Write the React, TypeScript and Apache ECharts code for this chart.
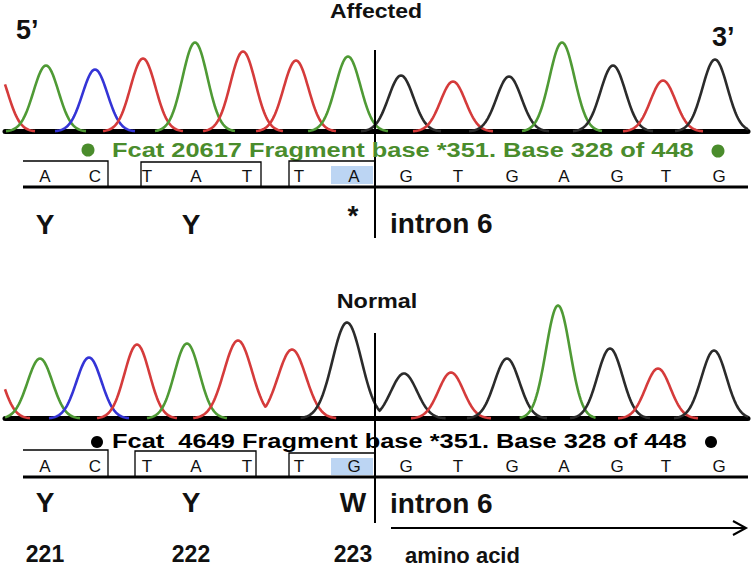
import React, { useEffect, useRef } from "react";
import * as echarts from "echarts";

// ---- data ----
const baseColors: Record<string, string> = { A: "#4f9a35", C: "#3434d6", G: "#2b2b2b", T: "#d53b3b" };

// Affected trace: peak scan positions, signal heights, called base, peak width, trace group
const affectedScan = [-5, 46, 95, 143, 195, 243, 296, 348, 401, 453, 509, 562, 613, 663, 715];
const affectedSignal = [65, 66, 62, 73, 89, 80, 71, 75, 56, 50, 55, 89, 66, 51, 72];
const affectedBase = ["T", "A", "C", "T", "A", "T", "T", "A", "G", "T", "G", "A", "G", "T", "G"];
const affectedWidth = [12.5, 12.5, 12.5, 12.5, 12.5, 12.5, 12.5, 12.5, 12.5, 12.5, 12.5, 12.5, 12.5, 12.5, 12.5];
const affectedGroup = [0, 1, 2, 3, 4, 5, 6, 7, 8, 9, 10, 11, 12, 13, 14];

// Normal trace
const normalScan = [-10, 40, 89, 137, 187, 238, 292, 347, 404, 451, 507, 558, 610, 658, 714];
const normalSignal = [60, 60, 61, 74, 75, 78, 69, 96, 45, 46, 60, 113, 70, 50, 68];
const normalBase = ["T", "A", "C", "T", "A", "T", "T", "G", "G", "T", "G", "A", "G", "T", "G"];
const normalWidth = [12.5, 12.5, 12.5, 12.5, 12.5, 14, 14, 14.5, 13, 12.5, 12.5, 12, 12.5, 12.5, 12.5];
const normalGroup = [0, 1, 2, 3, 4, 5, 5, 6, 6, 7, 8, 9, 10, 11, 12];

// Sequence rows
const seqScan = [45, 95, 147, 196, 247, 299, 354, 406, 458, 512, 564, 617, 666, 719];
const affectedSeq = ["A", "C", "T", "A", "T", "T", "A", "G", "T", "G", "A", "G", "T", "G"];
const normalSeq = ["A", "C", "T", "A", "T", "T", "G", "G", "T", "G", "A", "G", "T", "G"];

// Codons
const codonScan = [45, 191, 353];
const affectedAmino = ["Y", "Y", "*"];
const normalAmino = ["Y", "Y", "W"];
const codonNumber = ["221", "222", "223"];

const affectedTitle = "Affected";
const normalTitle = "Normal";
const affectedInfo = "Fcat 20617 Fragment base *351. Base 328 of 448";
const normalInfo = "Fcat  4649 Fragment base *351. Base 328 of 448";

const X_MIN = 5;
const X_MAX = 748;
const FONT = '"Liberation Sans", Arial, Helvetica, sans-serif';

type Peak = { c: number; h: number; s: number };
type Trace = { color: string; peaks: Peak[]; lo: number; hi: number };

function buildTraces(scan: number[], signal: number[], base: string[], width: number[], group: number[]): Trace[] {
  const map = new Map<number, Trace>();
  scan.forEach((c, i) => {
    const g = group[i];
    if (!map.has(g)) map.set(g, { color: baseColors[base[i]], peaks: [], lo: Infinity, hi: -Infinity });
    const t = map.get(g)!;
    const s = width[i];
    t.peaks.push({ c, h: signal[i], s });
    t.lo = Math.max(X_MIN, Math.min(t.lo, c - 3.2 * s));
    t.hi = Math.min(X_MAX, Math.max(t.hi, c + 3.2 * s));
  });
  return Array.from(map.values());
}

function traceSeries(traces: Trace[], idx: number) {
  return {
    type: "custom",
    xAxisIndex: idx,
    yAxisIndex: idx,
    coordinateSystem: "cartesian2d",
    silent: true,
    data: traces.map((t) => [t.lo, 0]),
    renderItem: (params: any, api: any) => {
      const t = traces[params.dataIndex];
      const pts: number[][] = [];
      for (let x = t.lo; x <= t.hi + 0.001; x += 1) {
        let y = 0;
        for (const p of t.peaks) {
          const v = p.h * Math.exp(-((x - p.c) * (x - p.c)) / (2 * p.s * p.s));
          if (v > y) y = v;
        }
        pts.push(api.coord([x, y]));
      }
      return {
        type: "polyline",
        shape: { points: pts },
        style: { stroke: t.color, lineWidth: 2.6, fill: "none", lineJoin: "round" },
      };
    },
  };
}

function txt(x: number, y: number, text: string, size: number, o: any = {}) {
  return {
    type: "text",
    x,
    y,
    scaleX: o.scaleX ?? 1,
    silent: true,
    z: 10,
    style: {
      text,
      fill: o.fill ?? "#111",
      fontSize: size,
      fontWeight: o.weight ?? "bold",
      fontFamily: FONT,
      align: o.align ?? "center",
      verticalAlign: "middle",
    },
  };
}

function line(x1: number, y1: number, x2: number, y2: number, w: number) {
  return { type: "line", silent: true, z: 10, shape: { x1, y1, x2, y2 }, style: { stroke: "#000", lineWidth: w } };
}

function poly(points: number[][], w: number) {
  return { type: "polyline", silent: true, z: 10, shape: { points }, style: { stroke: "#000", lineWidth: w, fill: "none" } };
}

export default function App() {
  const ref = useRef<HTMLDivElement>(null);

  useEffect(() => {
    if (!ref.current) return;
    const chart = echarts.init(ref.current, null, { renderer: "svg" });
    const topTraces = buildTraces(affectedScan, affectedSignal, affectedBase, affectedWidth, affectedGroup);
    const botTraces = buildTraces(normalScan, normalSignal, normalBase, normalWidth, normalGroup);

    const xAxisBase = {
      type: "value",
      min: X_MIN,
      max: X_MAX,
      axisLine: { show: true, onZero: true, lineStyle: { color: "#000", width: 5 } },
      axisTick: { show: false },
      axisLabel: { show: false },
      splitLine: { show: false },
    };
    const yAxisBase = { type: "value", min: 0, max: 120, show: false };

    chart.setOption({
      animation: false,
      backgroundColor: "#fff",
      grid: [
        { left: X_MIN, width: X_MAX - X_MIN, top: 11.5, height: 120 },
        { left: X_MIN, width: X_MAX - X_MIN, top: 298.5, height: 120 },
      ],
      xAxis: [
        { ...xAxisBase, gridIndex: 0 },
        { ...xAxisBase, gridIndex: 1 },
      ],
      yAxis: [
        { ...yAxisBase, gridIndex: 0 },
        { ...yAxisBase, gridIndex: 1 },
      ],
      series: [traceSeries(topTraces, 0), traceSeries(botTraces, 1)],
    });

    const px = (v: number) => chart.convertToPixel({ xAxisIndex: 0 }, v) as number;

    const g: any[] = [];
    // titles
    g.push(txt(376, 12, affectedTitle, 19.5, { scaleX: 1.18 }));
    g.push(txt(377, 302, normalTitle, 19.5, { scaleX: 1.2 }));
    g.push(txt(16, 30, "5\u2019", 27, { align: "left" }));
    g.push(txt(712, 37, "3\u2019", 27, { align: "left" }));

    // dividers
    g.push(line(375, 50, 375, 238, 2));
    g.push(line(375, 333, 375, 523, 2));

    // info lines
    const green = "#4a8c2c";
    g.push({ type: "circle", silent: true, z: 10, shape: { cx: 88, cy: 150, r: 6.5 }, style: { fill: green } });
    g.push({ type: "circle", silent: true, z: 10, shape: { cx: 718, cy: 151, r: 6.5 }, style: { fill: green } });
    g.push(txt(112, 150, affectedInfo, 20, { align: "left", scaleX: 1.27, fill: green }));
    g.push({ type: "circle", silent: true, z: 10, shape: { cx: 97, cy: 442, r: 6 }, style: { fill: "#000" } });
    g.push({ type: "circle", silent: true, z: 10, shape: { cx: 711, cy: 442, r: 6 }, style: { fill: "#000" } });
    g.push(txt(112, 441, normalInfo, 20, { align: "left", scaleX: 1.27, fill: "#000" }));

    // codon boxes + highlight, top
    g.push({ type: "rect", silent: true, z: 9, shape: { x: 331, y: 166, width: 42, height: 18 }, style: { fill: "#bcd5f3" } });
    g.push(poly([[23, 161], [108, 161], [108, 187]], 1.3));
    g.push(poly([[141, 187], [141, 162], [261, 162], [261, 187]], 1.3));
    g.push(poly([[289, 187], [289, 161], [376, 161]], 1.3));
    g.push(line(23, 187, 748, 187, 3));
    // bottom
    g.push({ type: "rect", silent: true, z: 9, shape: { x: 331, y: 458, width: 42, height: 17 }, style: { fill: "#bcd5f3" } });
    g.push(poly([[23, 450], [108, 450], [108, 477]], 1.3));
    g.push(poly([[135, 477], [135, 451], [256, 451], [256, 477]], 1.3));
    g.push(poly([[289, 477], [289, 453], [376, 453]], 1.3));
    g.push(line(23, 477, 748, 477, 3));

    // sequence letters
    seqScan.forEach((s, i) => {
      g.push(txt(px(s), 176, affectedSeq[i], 17, { weight: "normal" }));
      g.push(txt(px(s), 466, normalSeq[i], 17, { weight: "normal" }));
    });

    // amino acids
    codonScan.forEach((s, i) => {
      const a = affectedAmino[i];
      g.push(txt(px(s), a === "*" ? 215 : 224, a, 28));
      g.push(txt(px(s), 502, normalAmino[i], 28));
      g.push(txt(px(s), 554, codonNumber[i], 23));
    });
    g.push(txt(390, 223, "intron 6", 28, { align: "left" }));
    g.push(txt(390, 503, "intron 6", 28, { align: "left" }));
    g.push(txt(405, 555, "amino acid", 22, { align: "left" }));

    // arrow
    g.push(line(391, 528, 744, 528, 2));
    g.push(poly([[733, 521], [746, 528], [733, 535]], 2));

    chart.setOption({ graphic: g });

    return () => chart.dispose();
  }, []);

  return (
    <div
      ref={ref}
      style={{ position: "fixed", left: 0, top: 0, width: 752, height: 566, background: "#fff" }}
    />
  );
}
